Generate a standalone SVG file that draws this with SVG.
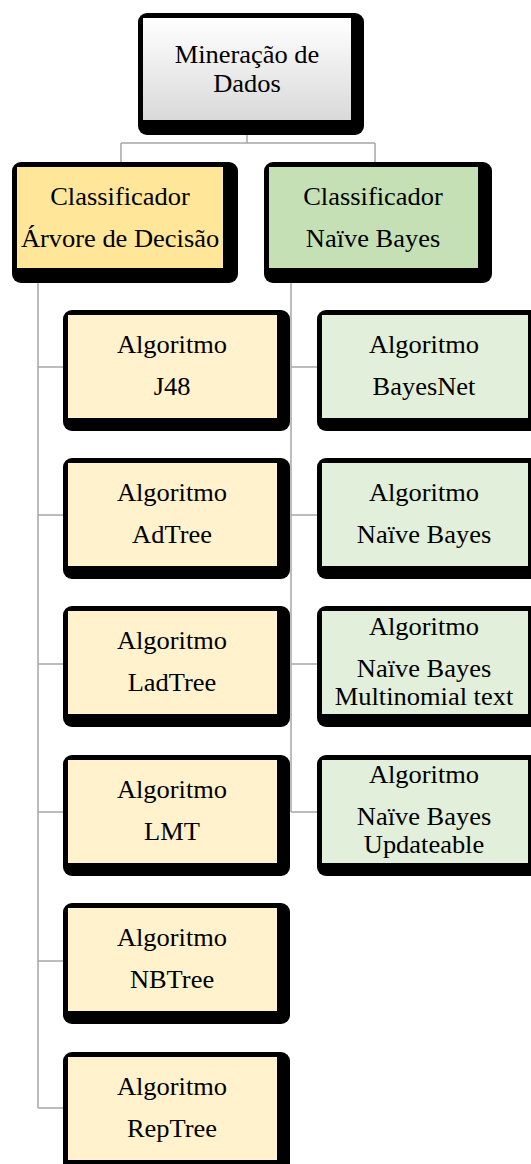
<svg xmlns="http://www.w3.org/2000/svg" width="531" height="1164" viewBox="0 0 531 1164">
  <defs>
    <linearGradient id="gradRoot" x1="0" y1="0" x2="0" y2="1">
      <stop offset="0" stop-color="#ffffff"/>
      <stop offset="1" stop-color="#d9d9d9"/>
    </linearGradient>
  </defs>
  <style>
    .frame { fill: #000000; }
    .root { fill: url(#gradRoot); }
    .c-tree { fill: #ffe699; }
    .c-bayes { fill: #c5e0b4; }
    .a-tree { fill: #fff2cc; }
    .a-bayes { fill: #e2efda; }
    .link { fill: none; stroke: #a6a6a6; stroke-width: 1.5; }
    text { font-family: "Liberation Serif", "Times New Roman", serif; font-size: 24.5px; fill: #000000; text-anchor: middle; }
  </style>

  <!-- connectors -->
  <g id="connectors">
    <path class="link" d="M247,120 V143 M121,143 H375 M121,143 V167 M375,143 V167"/>
    <path class="link" d="M38,268 V1108 M38,367 H68 M38,515 H68 M38,664 H68 M38,812 H68 M38,961 H68 M38,1108 H68"/>
    <path class="link" d="M291,268 V812 M291,367 H322 M291,515 H322 M291,664 H322 M291,812 H322"/>
  </g>

  <!-- root -->
  <g id="mineracao">
    <rect class="frame" x="138" y="13" width="226" height="122" rx="9"/>
    <rect class="root" x="143" y="18" width="208" height="102"/>
    <g transform="translate(247,0) scale(1.08,1)">
      <text x="0" y="63">Mineração de</text>
      <text x="0" y="92">Dados</text>
    </g>
  </g>

  <!-- classifiers -->
  <g id="classificador-arvore">
    <rect class="frame" x="12" y="162" width="226" height="121" rx="9"/>
    <rect class="c-tree" x="17" y="167" width="206" height="101"/>
    <g transform="translate(120,0) scale(1.08,1)">
      <text x="0" y="205">Classificador</text>
      <text x="0" y="247">Árvore de Decisão</text>
    </g>
  </g>
  <g id="classificador-bayes">
    <rect class="frame" x="264" y="162" width="228" height="121" rx="9"/>
    <rect class="c-bayes" x="269" y="167" width="209" height="101"/>
    <g transform="translate(373,0) scale(1.08,1)">
      <text x="0" y="205">Classificador</text>
      <text x="0" y="247">Naïve Bayes</text>
    </g>
  </g>

  <!-- decision tree algorithms -->
  <g id="alg-j48">
    <rect class="frame" x="63" y="310" width="227" height="121" rx="9"/>
    <rect class="a-tree" x="68" y="315" width="209" height="103"/>
    <g transform="translate(172,0) scale(1.08,1)">
      <text x="0" y="353">Algoritmo</text>
      <text x="0" y="395">J48</text>
    </g>
  </g>
  <g id="alg-adtree">
    <rect class="frame" x="63" y="458" width="227" height="121" rx="9"/>
    <rect class="a-tree" x="68" y="463" width="209" height="103"/>
    <g transform="translate(172,0) scale(1.08,1)">
      <text x="0" y="501">Algoritmo</text>
      <text x="0" y="543">AdTree</text>
    </g>
  </g>
  <g id="alg-ladtree">
    <rect class="frame" x="63" y="606" width="227" height="121" rx="9"/>
    <rect class="a-tree" x="68" y="611" width="209" height="103"/>
    <g transform="translate(172,0) scale(1.08,1)">
      <text x="0" y="649">Algoritmo</text>
      <text x="0" y="691">LadTree</text>
    </g>
  </g>
  <g id="alg-lmt">
    <rect class="frame" x="63" y="755" width="227" height="121" rx="9"/>
    <rect class="a-tree" x="68" y="760" width="209" height="103"/>
    <g transform="translate(172,0) scale(1.08,1)">
      <text x="0" y="798">Algoritmo</text>
      <text x="0" y="840">LMT</text>
    </g>
  </g>
  <g id="alg-nbtree">
    <rect class="frame" x="63" y="903" width="227" height="121" rx="9"/>
    <rect class="a-tree" x="68" y="908" width="209" height="103"/>
    <g transform="translate(172,0) scale(1.08,1)">
      <text x="0" y="946">Algoritmo</text>
      <text x="0" y="988">NBTree</text>
    </g>
  </g>
  <g id="alg-reptree">
    <rect class="frame" x="63" y="1052" width="227" height="121" rx="9"/>
    <rect class="a-tree" x="68" y="1057" width="209" height="103"/>
    <g transform="translate(172,0) scale(1.08,1)">
      <text x="0" y="1095">Algoritmo</text>
      <text x="0" y="1137">RepTree</text>
    </g>
  </g>

  <!-- naive bayes algorithms -->
  <g id="alg-bayesnet">
    <rect class="frame" x="317" y="310" width="225" height="121" rx="9"/>
    <rect class="a-bayes" x="322" y="315" width="206" height="103"/>
    <g transform="translate(424,0) scale(1.08,1)">
      <text x="0" y="353">Algoritmo</text>
      <text x="0" y="395">BayesNet</text>
    </g>
  </g>
  <g id="alg-naivebayes">
    <rect class="frame" x="317" y="458" width="225" height="121" rx="9"/>
    <rect class="a-bayes" x="322" y="463" width="206" height="103"/>
    <g transform="translate(424,0) scale(1.08,1)">
      <text x="0" y="501">Algoritmo</text>
      <text x="0" y="543">Naïve Bayes</text>
    </g>
  </g>
  <g id="alg-multinomial">
    <rect class="frame" x="317" y="606" width="225" height="121" rx="9"/>
    <rect class="a-bayes" x="322" y="611" width="206" height="103"/>
    <g transform="translate(424,0) scale(1.08,1)">
      <text x="0" y="635">Algoritmo</text>
      <text x="0" y="677">Naïve Bayes</text>
      <text x="0" y="705">Multinomial text</text>
    </g>
  </g>
  <g id="alg-updateable">
    <rect class="frame" x="317" y="755" width="225" height="121" rx="9"/>
    <rect class="a-bayes" x="322" y="760" width="206" height="103"/>
    <g transform="translate(424,0) scale(1.08,1)">
      <text x="0" y="783">Algoritmo</text>
      <text x="0" y="825">Naïve Bayes</text>
      <text x="0" y="853">Updateable</text>
    </g>
  </g>
</svg>
